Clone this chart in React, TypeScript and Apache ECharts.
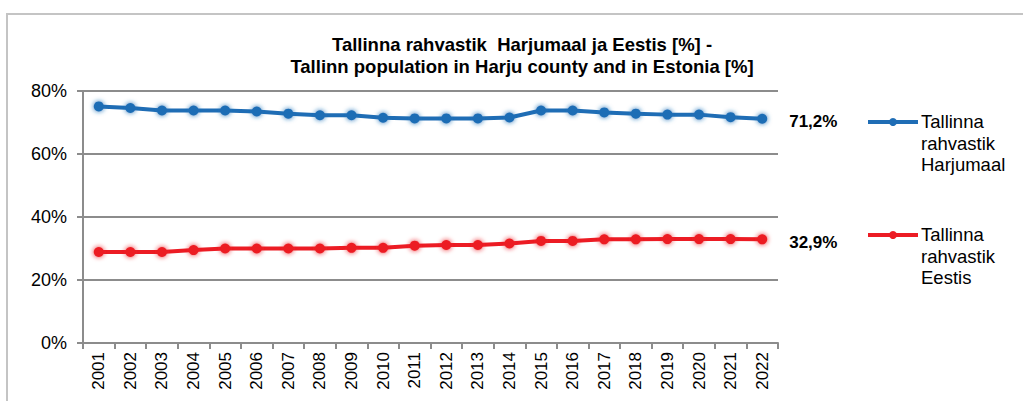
import React, { useEffect, useRef } from "react";
import * as echarts from "echarts";

const years = ["2001","2002","2003","2004","2005","2006","2007","2008","2009","2010","2011","2012","2013","2014","2015","2016","2017","2018","2019","2020","2021","2022"];
const harjumaa = [75.1,74.6,73.8,73.8,73.8,73.5,72.8,72.3,72.3,71.5,71.3,71.3,71.3,71.6,73.8,73.8,73.2,72.8,72.5,72.5,71.7,71.2];
const eesti = [28.9,28.9,28.9,29.5,30.0,30.0,30.0,30.0,30.2,30.2,30.9,31.1,31.1,31.6,32.4,32.4,32.9,32.9,33.0,33.0,33.0,32.9];
const yTicks = [0, 20, 40, 60, 80];
const seriesNames = ["Tallinna rahvastik Harjumaal", "Tallinna rahvastik Eestis"];
const legendLabels = ["Tallinna\nrahvastik\nHarjumaal", "Tallinna\nrahvastik\nEestis"];
const titleLines = ["Tallinna rahvastik  Harjumaal ja Eestis [%] -", "Tallinn population in Harju county and in Estonia [%]"];

const BLUE = "#1f6db5";
const RED = "#ec1c24";
const FONT = "'Liberation Sans', Arial, sans-serif";

export default function App() {
  const ref = useRef<HTMLDivElement>(null);
  useEffect(() => {
    document.body.style.margin = "0";
    const chart = echarts.init(ref.current!, null, { renderer: "svg" });
    const lastLabel = () => ({
      show: true,
      position: "right",
      distance: 22,
      offset: [0, 3],
      fontFamily: FONT,
      fontSize: 17,
      fontWeight: "bold",
      color: "#000",
      formatter: (p: any) =>
        p.dataIndex === years.length - 1 ? p.value.toFixed(1).replace(".", ",") + "%" : "",
    });
    const mkSeries = (name: string, data: number[], color: string) => ({
      name,
      type: "line",
      data,
      symbol: "circle",
      symbolSize: 10,
      itemStyle: { color, shadowBlur: 5, shadowColor: color },
      lineStyle: { color, width: 4 },
      label: lastLabel(),
    });
    const legendItem = (y: number, color: string, text: string) => ({
      type: "group",
      children: [
        { type: "line", shape: { x1: 868, y1: y, x2: 918, y2: y }, style: { stroke: color, lineWidth: 4 } },
        { type: "circle", shape: { cx: 893, cy: y, r: 4 }, style: { fill: color } },
        {
          type: "text",
          x: 921,
          y: y - 11,
          style: { text, font: `18.5px ${FONT}`, fill: "#000", lineHeight: 21.5 },
        },
      ],
    });
    chart.setOption({
      animation: false,
      backgroundColor: "#fff",
      title: {
        text: titleLines.join("\n"),
        left: 522,
        top: 33,
        padding: 0,
        textAlign: "center",
        textStyle: { fontFamily: FONT, fontSize: 18.5, fontWeight: "bold", color: "#000", lineHeight: 22 },
      },
      grid: { left: 83, right: 245, top: 91, bottom: 58, containLabel: false },
      xAxis: {
        type: "category",
        data: years,
        boundaryGap: true,
        axisLine: { lineStyle: { color: "#8c8c8c", width: 2 } },
        axisTick: { show: true, length: 6, lineStyle: { color: "#8c8c8c", width: 2 } },
        axisLabel: { rotate: 90, fontFamily: FONT, fontSize: 17, color: "#000", margin: 9, interval: 0 },
      },
      yAxis: {
        type: "value",
        min: yTicks[0],
        max: yTicks[yTicks.length - 1],
        interval: 20,
        axisLine: { show: true, lineStyle: { color: "#8c8c8c", width: 2 } },
        axisTick: { show: true, length: 6, lineStyle: { color: "#8c8c8c", width: 2 } },
        splitLine: { lineStyle: { color: "#8c8c8c", width: 2 } },
        axisLabel: { fontFamily: FONT, fontSize: 18, color: "#000", margin: 16, formatter: "{value}%" },
      },
      series: [mkSeries(seriesNames[0], harjumaa, BLUE), mkSeries(seriesNames[1], eesti, RED)],
      graphic: [
        {
          type: "rect",
          shape: { x: 7, y: 14, width: 1100, height: 500 },
          style: { fill: "none", stroke: "#c4c4c4", lineWidth: 2 },
          silent: true,
        },
        legendItem(122, BLUE, legendLabels[0]),
        legendItem(235, RED, legendLabels[1]),
      ],
    });
    return () => chart.dispose();
  }, []);
  return <div ref={ref} style={{ width: 1023, height: 401 }} />;
}
